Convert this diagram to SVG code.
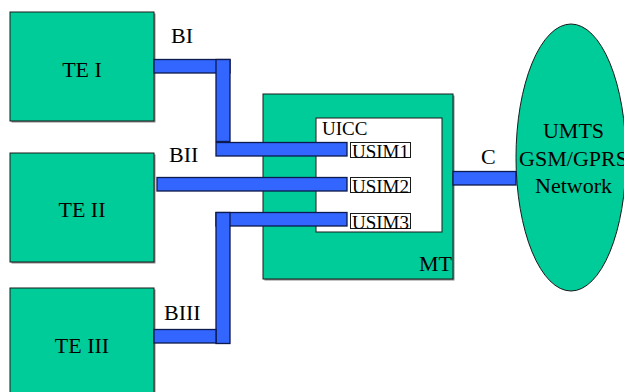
<svg xmlns="http://www.w3.org/2000/svg" width="624" height="392" viewBox="0 0 624 392">
<style>
text{font-family:'Liberation Serif','Times New Roman',serif;fill:#000}
.lbl{font-size:22px}
.sm{font-size:19px}
.box{fill:#00CC99;stroke:#1a1a1a;stroke-width:1}
.sh{fill:#8a8a8a}
.bar{fill:#3366FF;stroke:#0d1a4d;stroke-width:1.3}
.wb{fill:#fff;stroke:#1a1a1a;stroke-width:1}
</style>
<rect width="624" height="392" fill="#fff"/>
<g id="te1">
<rect class="sh" x="11.5" y="13.5" width="144" height="109"/>
<rect class="box" x="10" y="12" width="144" height="109"/>
<text class="lbl" x="82" y="77" text-anchor="middle">TE I</text>
</g>
<g id="te2">
<rect class="sh" x="11.5" y="154.5" width="144" height="109"/>
<rect class="box" x="10" y="153" width="144" height="109"/>
<text class="lbl" x="82" y="217" text-anchor="middle">TE II</text>
</g>
<g id="te3">
<rect class="sh" x="11.5" y="289.5" width="144" height="109"/>
<rect class="box" x="10" y="288" width="144" height="109"/>
<text class="lbl" x="82" y="353" text-anchor="middle">TE III</text>
</g>
<g id="mt">
<rect class="sh" x="264.5" y="95.5" width="190" height="185"/>
<rect class="box" x="263" y="94" width="190" height="185"/>
<text class="lbl" x="452" y="271" text-anchor="end">MT</text>
</g>
<g id="uicc">
<rect class="wb" x="316" y="118" width="126" height="114"/>
<text class="sm" x="322" y="135">UICC</text>
</g>
<g id="usim1">
<rect class="wb" x="350.5" y="142.5" width="60" height="15"/>
<text class="sm" x="352" y="158">USIM1</text>
</g>
<g id="usim2">
<rect class="wb" x="350.5" y="177.5" width="60" height="15"/>
<text class="sm" x="352" y="193">USIM2</text>
</g>
<g id="usim3">
<rect class="wb" x="350.5" y="213.5" width="60" height="15"/>
<text class="sm" x="352" y="229">USIM3</text>
</g>
<g id="network">
<ellipse cx="571" cy="157.5" rx="55" ry="133.5" fill="#00CC99" stroke="#1a1a1a" stroke-width="1"/>
<text class="lbl" x="573.5" y="138" text-anchor="middle">UMTS</text>
<text class="lbl" x="573.5" y="166" text-anchor="middle">GSM/GPRS</text>
<text class="lbl" x="573.5" y="193" text-anchor="middle">Network</text>
</g>
<g id="connectors">
<rect class="bar" x="154" y="59.5" width="76" height="13.5"/>
<rect class="bar" x="216" y="59.5" width="14" height="82"/>
<rect class="bar" x="216" y="142.5" width="131" height="13.5"/>
<rect class="bar" x="157" y="177.5" width="190" height="13.5"/>
<rect class="bar" x="216" y="212.5" width="131" height="13.5"/>
<rect class="bar" x="216" y="212.5" width="14" height="131"/>
<rect class="bar" x="154" y="329.5" width="62" height="13.5"/>
<rect class="bar" x="453" y="171.5" width="63" height="13.5"/>
<text class="lbl" x="171" y="43">BI</text>
<text class="lbl" x="169" y="162">BII</text>
<text class="lbl" x="164" y="320">BIII</text>
<text class="lbl" x="481" y="164">C</text>
</g>
</svg>
